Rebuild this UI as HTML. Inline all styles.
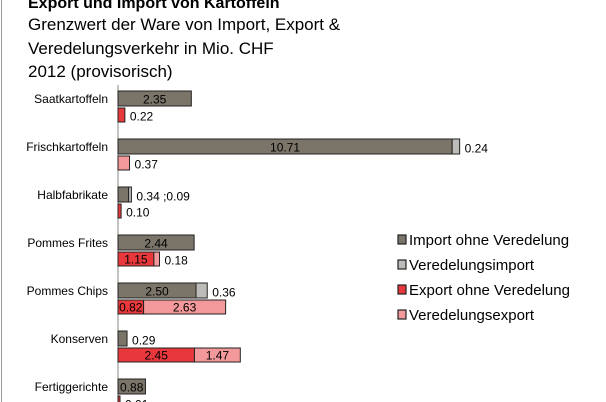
<!DOCTYPE html>
<html><head><meta charset="utf-8"><style>
body{margin:0;width:606px;height:402px;overflow:hidden;background:#fff;font-family:"Liberation Sans",sans-serif}
svg{position:absolute;left:0;top:0}
</style></head><body>
<svg width="606" height="402">
<line x1="1.5" y1="0" x2="1.5" y2="402" stroke="#999"/>
<text x="28" y="8" font-size="16" font-weight="bold">Export und Import von Kartoffeln</text>
<text x="28" y="30" font-size="17">Grenzwert der Ware von Import, Export &amp;</text>
<text x="28" y="54" font-size="17">Veredelungsverkehr in Mio. CHF</text>
<text x="28" y="77" font-size="17">2012 (provisorisch)</text>
<line x1="118" y1="85" x2="118" y2="402" stroke="#888"/>
<g id="bars"></g>
<g id="legend"></g>
</svg>
<script>
const categories=["Saatkartoffeln","Frischkartoffeln","Halbfabrikate","Pommes Frites","Pommes Chips","Konserven","Fertiggerichte"];
const importOhne=[2.35,10.71,0.34,2.44,2.50,0.29,0.88];
const vImport=[0,0.24,0.09,0,0.36,0,0];
const exportOhne=[0.22,0,0.10,1.15,0.82,2.45,0.01];
const vExport=[0,0.37,0,0.18,2.63,1.47,0];
const seriesNames=["Import ohne Veredelung","Veredelungsimport","Export ohne Veredelung","Veredelungsexport"];
const colors=["#7a7469","#bdbcb8","#e8383c","#f4999b"];
const NS="http://www.w3.org/2000/svg";
const x0=118,scale=31.2;
const xs=v=>v*scale;
const rowY=i=>91+48*i;
const g=document.getElementById('bars');
function mk(t,a,p){const e=document.createElementNS(NS,t);for(const k in a)e.setAttribute(k,a[k]);(p||g).appendChild(e);return e;}
function txt(x,y,s,anchor,p){const t=mk('text',{x:x,y:y,'font-size':12,'text-anchor':anchor||'start'},p);t.textContent=s;return t;}
categories.forEach((c,i)=>{
  const y=rowY(i);
  const l=txt(108,y+12,c,'end');
  
  
  const pairs=[[importOhne,vImport,0,1,y,15],[exportOhne,vExport,2,3,y+17,14]];
  pairs.forEach(([a,b,ca,cb,yy,h])=>{
    let x=x0;const outside=[];
    [[a[i],ca],[b[i],cb]].forEach(([v,ci])=>{
      if(v<=0)return;
      const w=Math.max(xs(v),2);
      const r=mk('rect',{x:x,y:yy,width:w,height:h,fill:colors[ci],stroke:'#222','stroke-width':1});
      
      
      if(w>22){const t=txt(x+w/2,yy+h-2.5,v.toFixed(2),'middle');}
      else outside.push(v.toFixed(2));
      x+=w;
    });
    if(outside.length){const t=txt(x+5,yy+h-1.5,outside.join(' ;'));}
  });
});
const lg=document.getElementById('legend');
seriesNames.forEach((n,i)=>{
  const y=235+25*i;
  const r=mk('rect',{x:398,y:y,width:8,height:9,fill:colors[i],stroke:'#222','stroke-width':1.2},lg);
  
  
  const t=mk('text',{x:409,y:y+10,'font-size':15},lg);t.textContent=n;
  
  
});
</script>
</body></html>
